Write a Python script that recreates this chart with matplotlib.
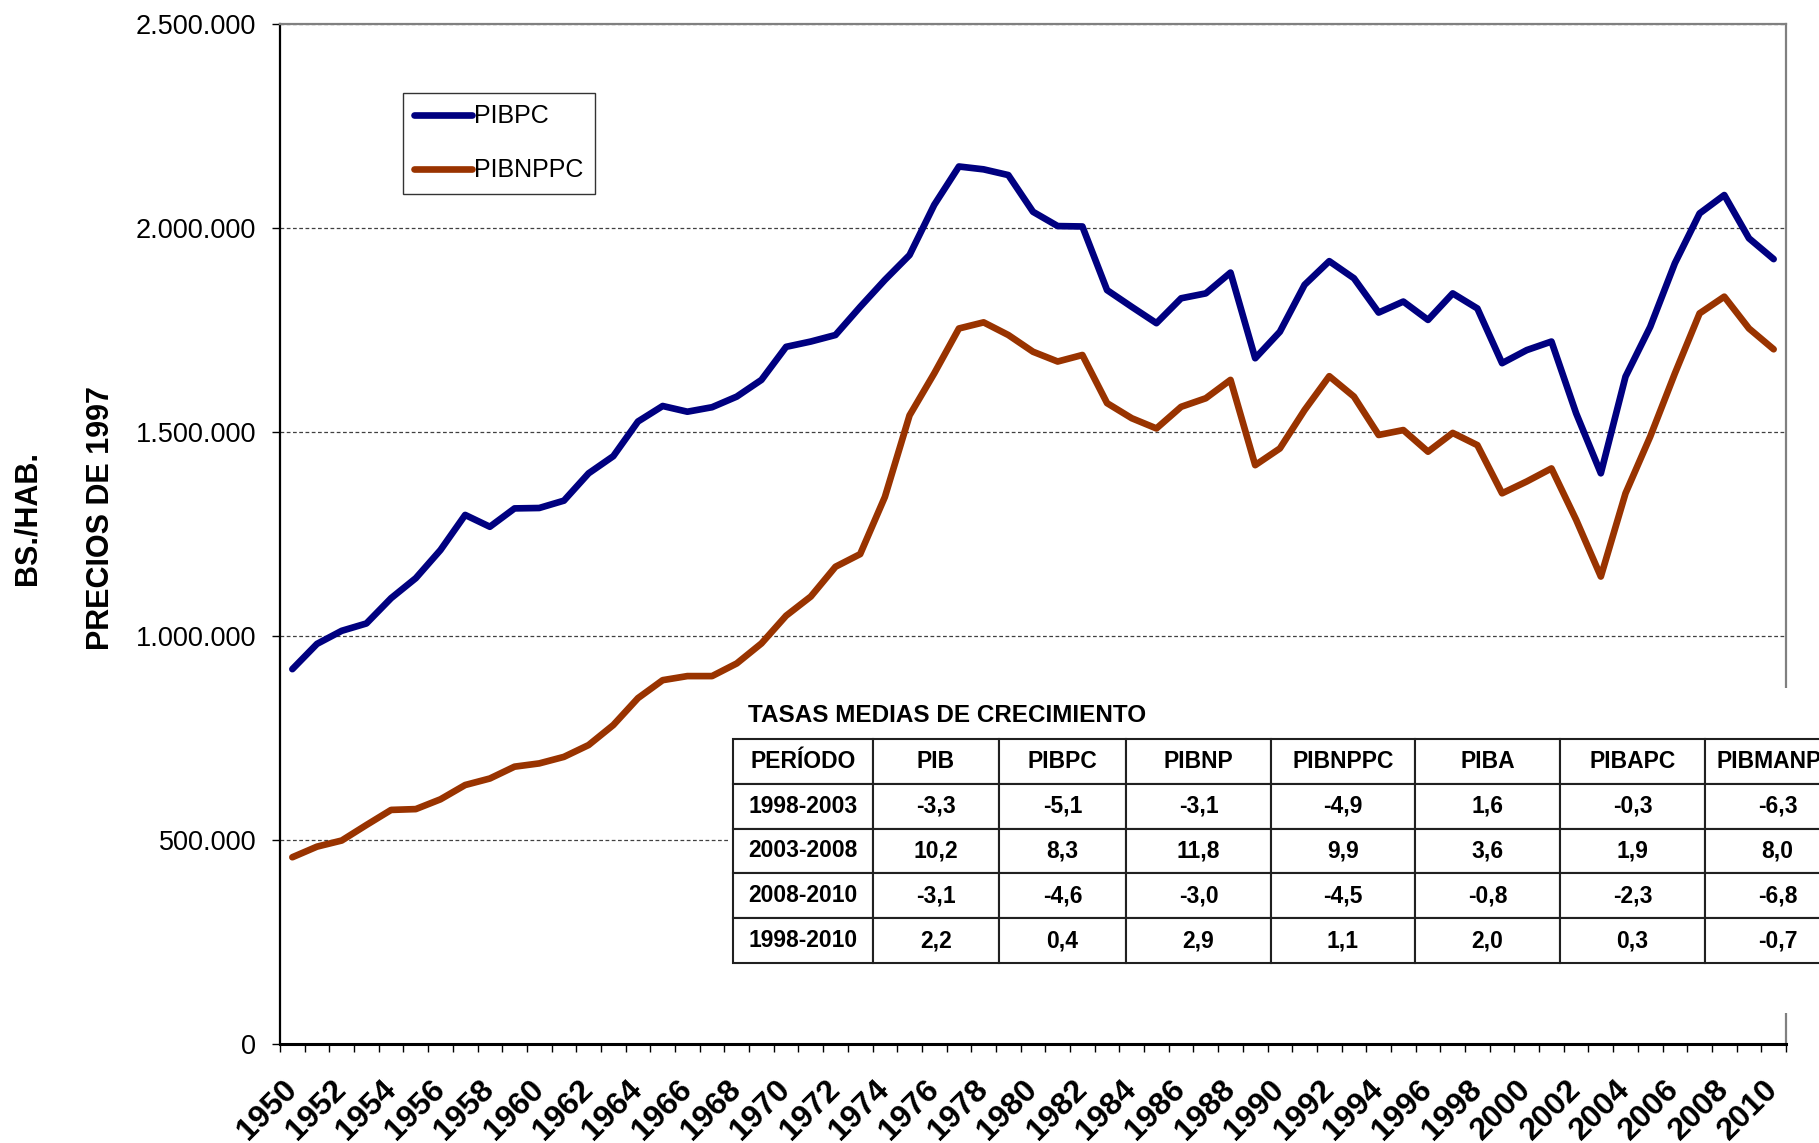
import matplotlib
matplotlib.use('Agg')
import matplotlib.pyplot as plt
from matplotlib.patches import Rectangle
from matplotlib.ticker import FuncFormatter
import numpy as np

plt.rcParams['font.family'] = ['Liberation Sans', 'DejaVu Sans']

# datos (miles de Bs./hab., precios de 1997)
years = list(range(1950, 2011))
pibpc = [918, 980, 1012, 1030, 1092, 1141, 1210, 1296, 1267, 1312,
         1313, 1331, 1398, 1440, 1525, 1563, 1549, 1560, 1586, 1627,
         1708, 1721, 1737, 1806, 1872, 1933, 2056, 2150, 2143, 2129,
         2039, 2004, 2003, 1847, 1806, 1766, 1827, 1839, 1890, 1680,
         1745, 1860, 1918, 1876, 1792, 1819, 1774, 1839, 1802, 1668,
         1700, 1721, 1545, 1398, 1635, 1757, 1913, 2035, 2080, 1974,
         1923]
pibnppc = [457, 483, 498, 536, 573, 575, 599, 634, 650, 679,
           687, 703, 732, 781, 847, 891, 901, 901, 932, 981,
           1049, 1096, 1169, 1200, 1340, 1540, 1643, 1753, 1768, 1737,
           1696, 1672, 1688, 1570, 1533, 1508, 1561, 1582, 1627, 1418,
           1459, 1553, 1636, 1586, 1492, 1504, 1451, 1497, 1467, 1349,
           1378, 1410, 1284, 1145, 1349, 1488, 1643, 1790, 1831, 1753,
           1702]

# tabla de tasas medias de crecimiento
col_labels = ['PERÍODO', 'PIB', 'PIBPC', 'PIBNP', 'PIBNPPC', 'PIBA', 'PIBAPC', 'PIBMANPC']
periods = ['1998-2003', '2003-2008', '2008-2010', '1998-2010']
rate_pib = [-3.3, 10.2, -3.1, 2.2]
rate_pibpc = [-5.1, 8.3, -4.6, 0.4]
rate_pibnp = [-3.1, 11.8, -3.0, 2.9]
rate_pibnppc = [-4.9, 9.9, -4.5, 1.1]
rate_piba = [1.6, 3.6, -0.8, 2.0]
rate_pibapc = [-0.3, 1.9, -2.3, 0.3]
rate_pibmanpc = [-6.3, 8.0, -6.8, -0.7]

BLUE = '#000080'
BROWN = '#993300'

fig = plt.figure(figsize=(18.19, 11.43), dpi=100)
ax = fig.add_axes([280/1819, 99.3/1143, 1506/1819, 1020/1143])

ys1 = np.array(pibpc) * 1000
ys2 = np.array(pibnppc) * 1000
ax.plot(years, ys1, color=BLUE, lw=4.8, solid_capstyle='round', solid_joinstyle='round', label='PIBPC', zorder=2)
ax.plot(years, ys2, color=BROWN, lw=4.8, solid_capstyle='round', solid_joinstyle='round', label='PIBNPPC', zorder=2)

ax.set_xlim(1949.5, 2010.5)
ax.set_ylim(0, 2500000)
ax.set_yticks(np.arange(0, 2500001, 500000))
ax.yaxis.set_major_formatter(FuncFormatter(lambda v, p: f'{int(v):,}'.replace(',', '.')))
ax.tick_params(axis='y', length=6, width=1, pad=11, labelsize=19.5, color='black')
ax.yaxis.grid(True, linestyle=(0, (3, 2)), color='#404040', lw=0.9)
ax.set_axisbelow(True)

# ticks entre categorias, etiquetas cada dos años
ax.set_xticks([y - 0.5 for y in years] + [2010.5])
ax.set_xticklabels([])
ax.tick_params(axis='x', which='major', length=6, width=1, color='black')
even_years = [y for y in years if y % 2 == 0]
ax.set_xticks(even_years, minor=True)
ax.set_xticklabels([str(y) for y in even_years], minor=True, rotation=45,
                   ha='right', va='center', rotation_mode='anchor',
                   fontsize=23, fontweight='bold')
ax.tick_params(axis='x', which='minor', length=0, pad=30)

for s in ['top', 'right']:
    ax.spines[s].set_color('#808080')
    ax.spines[s].set_linewidth(1.6)
ax.spines['left'].set_linewidth(1.6)
ax.spines['bottom'].set_linewidth(2.2)

leg = ax.legend(loc='upper left', bbox_to_anchor=(403/1819, 1 - 93/1143),
                bbox_transform=fig.transFigure, fontsize=18, fancybox=False,
                edgecolor='black', borderpad=0.45, labelspacing=1.2,
                handlelength=2.3, handletextpad=0.1, borderaxespad=0)
leg.get_frame().set_linewidth(1.0)

fig.text(27.5/1819, 1 - 518/1143, 'BS./HAB.', rotation=90, fontsize=22,
         fontweight='bold', ha='center', va='center')
fig.text(101/1819, 1 - 518/1143, 'PRECIOS DE 1997', rotation=90, fontsize=22,
         fontweight='bold', ha='center', va='center')

# fondo blanco de la tabla
ax.add_patch(Rectangle(((729 - 280) / 1506, 0.030), 0.8, 0.319, transform=ax.transAxes,
                       fc='white', ec='none', zorder=3, clip_on=False))

ax.text((748 - 280) / 1506, (1043.7 - 716) / 1020, 'TASAS MEDIAS DE CRECIMIENTO',
        transform=ax.transAxes, fontsize=17.5, fontweight='bold',
        ha='left', va='center', zorder=6)

fmt = lambda v: f'{v:.1f}'.replace('.', ',')
rate_cols = [rate_pib, rate_pibpc, rate_pibnp, rate_pibnppc, rate_piba, rate_pibapc, rate_pibmanpc]
cell_text = [[periods[i]] + [fmt(c[i]) for c in rate_cols] for i in range(len(periods))]
col_px = [140, 126, 127, 145, 144, 145, 145, 145]
tbl = ax.table(cellText=cell_text, colLabels=col_labels, cellLoc='center',
               colWidths=[w / 1506 for w in col_px],
               bbox=[(733 - 280) / 1506, (1043.7 - 963) / 1020,
                     sum(col_px) / 1506, (963 - 739) / 1020])
tbl.auto_set_font_size(False)
tbl.set_zorder(5)
tbl.set_clip_on(False)
for (r, c), cell in tbl.get_celld().items():
    cell.set_edgecolor('#202020')
    cell.set_linewidth(1.5)
    cell.set_facecolor('white')
    cell.PAD = 0.02
    cell.get_text().set_fontsize(16.5)
    cell.get_text().set_fontweight('bold')
    cell.set_clip_on(False)

fig.savefig('out.png', dpi=100)
